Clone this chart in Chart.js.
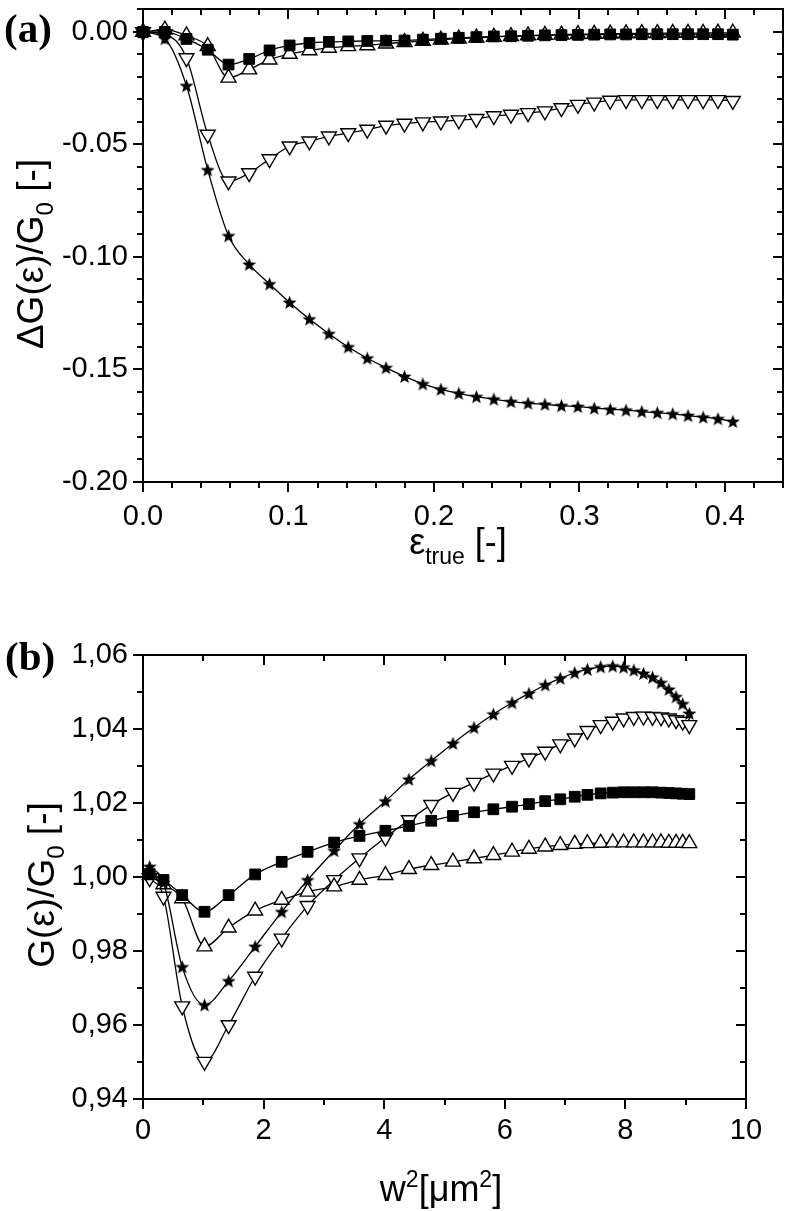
<!DOCTYPE html>
<html>
<head>
<meta charset="utf-8">
<script src="https://cdn.jsdelivr.net/npm/chart.js@4"></script>
<style>
  html, body { margin: 0; padding: 0; background: #fff; }
  #wrap { position: relative; width: 786px; height: 1211px; }
  canvas { position: absolute; left: 0; }
</style>
</head>
<body>
<div id="wrap">
  <canvas id="chart-a" width="786" height="580" style="top:0px"></canvas>
  <canvas id="chart-b" width="786" height="631" style="top:580px"></canvas>
</div>
<script>
// --- Panel (a): relative change of G against true strain ---
const strainA = [0, 0.0150, 0.0299, 0.0445, 0.0588, 0.0730, 0.0870, 0.1008, 0.1144, 0.1278,
    0.1411, 0.1542, 0.1671, 0.1798, 0.1924, 0.2048, 0.2171, 0.2292, 0.2412, 0.2530,
    0.2647, 0.2763, 0.2877, 0.2990, 0.3102, 0.3212, 0.3321, 0.3429, 0.3536, 0.3642,
    0.3747, 0.3851, 0.3953, 0.4055];
const starA = [0, -0.0030, -0.0239, -0.0613, -0.0906, -0.1033, -0.1120, -0.1202, -0.1276, -0.1341,
    -0.1400, -0.1450, -0.1492, -0.1531, -0.1564, -0.1588, -0.1606, -0.1621, -0.1632, -0.1643,
    -0.1650, -0.1655, -0.1661, -0.1665, -0.1672, -0.1677, -0.1681, -0.1687, -0.1692, -0.1697,
    -0.1705, -0.1712, -0.1719, -0.1731];
const squareA = [0, 0, -0.0031, -0.0079, -0.0145, -0.0120, -0.0082, -0.0060, -0.0049, -0.0044,
    -0.0042, -0.0040, -0.0039, -0.0038, -0.0034, -0.0030, -0.0026, -0.0023, -0.0020, -0.0019,
    -0.0017, -0.0015, -0.0014, -0.0013, -0.0012, -0.0011, -0.0011, -0.0010, -0.0010, -0.0010,
    -0.0010, -0.0010, -0.0010, -0.0012];
const upA = [0, 0.0010, -0.0016, -0.0064, -0.0204, -0.0167, -0.0123, -0.0098, -0.0082, -0.0071,
    -0.0064, -0.0060, -0.0052, -0.0046, -0.0040, -0.0035, -0.0030, -0.0026, -0.0022, -0.0019,
    -0.0016, -0.0014, -0.0012, -0.0010, -0.0009, -0.0008, -0.0007, -0.0006, -0.0006, -0.0005,
    -0.0005, -0.0005, -0.0004, -0.0004];
const downA = [0, -0.0010, -0.0116, -0.0456, -0.0664, -0.0627, -0.0565, -0.0508, -0.0486, -0.0464,
    -0.0449, -0.0434, -0.0416, -0.0407, -0.0401, -0.0397, -0.0392, -0.0386, -0.0374, -0.0367,
    -0.0360, -0.0352, -0.0338, -0.0323, -0.0313, -0.0305, -0.0302, -0.0302, -0.0302, -0.0302,
    -0.0302, -0.0302, -0.0302, -0.0306];
const xTicksA = [0, 0.1, 0.2, 0.3, 0.4];
const yTicksA = [0, -0.05, -0.10, -0.15, -0.20];

// --- Panel (b): G/G0 against w^2 ---
const w2B = [0.11, 0.34, 0.65, 1.02, 1.42, 1.86, 2.30, 2.73, 3.17, 3.59,
    4.02, 4.41, 4.78, 5.14, 5.49, 5.81, 6.12, 6.40, 6.67, 6.92,
    7.16, 7.37, 7.59, 7.79, 7.97, 8.14, 8.30, 8.45, 8.59, 8.72,
    8.84, 8.95, 9.06];
const starB = [1.0028, 0.9985, 0.9757, 0.9654, 0.9719, 0.9812, 0.9906, 0.9992, 1.0071, 1.0143,
    1.0205, 1.0264, 1.0314, 1.0361, 1.0404, 1.0440, 1.0471, 1.0496, 1.0519, 1.0537,
    1.0552, 1.0561, 1.0568, 1.0570, 1.0567, 1.0559, 1.0550, 1.0540, 1.0525, 1.0507,
    1.0487, 1.0468, 1.0442];
const squareB = [1.0008, 0.9992, 0.9951, 0.9906, 0.9951, 1.0007, 1.0041, 1.0068, 1.0093, 1.0111,
    1.0125, 1.0138, 1.0152, 1.0165, 1.0175, 1.0183, 1.0190, 1.0197, 1.0205, 1.0210,
    1.0217, 1.0222, 1.0226, 1.0228, 1.0229, 1.0229, 1.0229, 1.0229, 1.0228, 1.0227,
    1.0226, 1.0225, 1.0224];
const upB = [1.0005, 0.9980, 0.9942, 0.9812, 0.9863, 0.9909, 0.9938, 0.9960, 0.9974, 0.9992,
    1.0005, 1.0021, 1.0032, 1.0041, 1.0050, 1.0059, 1.0068, 1.0076, 1.0082, 1.0086,
    1.0089, 1.0091, 1.0092, 1.0093, 1.0093, 1.0093, 1.0093, 1.0093, 1.0093, 1.0092,
    1.0092, 1.0092, 1.0091];
const downB = [0.9997, 0.9947, 0.9651, 0.9501, 0.9600, 0.9731, 0.9834, 0.9922, 0.9992, 1.0051,
    1.0107, 1.0154, 1.0195, 1.0228, 1.0255, 1.0280, 1.0301, 1.0321, 1.0339, 1.0359,
    1.0375, 1.0395, 1.0411, 1.0420, 1.0429, 1.0433, 1.0434, 1.0433, 1.0432, 1.0429,
    1.0424, 1.0420, 1.0411];
const xTicksB = [0, 2, 4, 6, 8, 10];
const yTicksB = [0.94, 0.96, 0.98, 1.00, 1.02, 1.04, 1.06];

const SANS = '"Liberation Sans", Arial, sans-serif';

// --- filled five point star used as marker ---
function makeStar(r) {
    const c = document.createElement("canvas");
    const s = Math.ceil(r * 2 + 2);
    c.width = s; c.height = s;
    const g = c.getContext("2d");
    g.translate(s / 2, s / 2 + r * 0.08);
    g.beginPath();
    for (let i = 0; i < 10; i++) {
        const rr = i % 2 ? r * 0.42 : r;
        const a = -Math.PI / 2 + i * Math.PI / 5;
        g.lineTo(Math.cos(a) * rr, Math.sin(a) * rr);
    }
    g.closePath();
    g.fillStyle = "#000";
    g.fill();
    return c;
}
const starImg = makeStar(7.4);

// text with sub (1) / superscript (2) parts, centred on (cx, cy) baseline
function richText(ctx, parts, size, cx, cy, angle) {
    ctx.save();
    ctx.translate(cx, cy);
    ctx.rotate(angle || 0);
    ctx.textBaseline = "alphabetic";
    ctx.textAlign = "left";
    ctx.fillStyle = "#000";
    const fontFor = p => (p[1] ? Math.round(size * 0.65) : size) + "px " + SANS;
    let total = 0;
    const widths = parts.map(p => {
        ctx.font = fontFor(p);
        const w = ctx.measureText(p[0]).width;
        total += w;
        return w;
    });
    let x = -total / 2;
    parts.forEach((p, i) => {
        ctx.font = fontFor(p);
        const dy = p[1] === 1 ? size * 0.28 : p[1] === 2 ? -size * 0.4 : 0;
        ctx.fillText(p[0], x, dy);
        x += widths[i];
    });
    ctx.restore();
}

// --- frame, tick marks, titles ---
const framePlugin = {
    id: "frame",
    afterDraw(chart, args, o) {
        const ctx = chart.ctx, a = chart.chartArea;
        const xs = chart.scales.x, ys = chart.scales.y;
        ctx.save();
        ctx.strokeStyle = "#000";
        ctx.lineWidth = 2;
        ctx.strokeRect(a.left, a.top, a.right - a.left, a.bottom - a.top);
        ctx.beginPath();
        o.xMinor.forEach(v => {
            const p = Math.round(xs.getPixelForValue(v));
            const major = o.xMajor.some(m => Math.abs(m - v) < 1e-9);
            const L = major ? o.majorLen : o.minorLen;
            ctx.moveTo(p, a.bottom); ctx.lineTo(p, a.bottom + L);
            ctx.moveTo(p, a.top); ctx.lineTo(p, a.top + L);
        });
        o.yMinor.forEach(v => {
            const p = Math.round(ys.getPixelForValue(v));
            const major = o.yMajor.some(m => Math.abs(m - v) < 1e-9);
            const L = major ? o.majorLen : o.minorLen;
            ctx.moveTo(a.left, p); ctx.lineTo(a.left - L, p);
            ctx.moveTo(a.right, p); ctx.lineTo(a.right - L, p);
        });
        ctx.stroke();

        ctx.fillStyle = "#000";
        ctx.font = 'bold 41px "Liberation Serif", "Times New Roman", serif';
        ctx.textBaseline = "middle";
        ctx.textAlign = "left";
        ctx.fillText(o.letter.text, o.letter.x, o.letter.y);

        richText(ctx, o.xTitle.parts, 36, o.xTitle.x, o.xTitle.y, 0);
        richText(ctx, o.yTitle.parts, 37, o.yTitle.x, o.yTitle.y, -Math.PI / 2);
        ctx.restore();
    }
};

function series(xs, ys, style) {
    return Object.assign({
        data: xs.map((x, i) => ({ x: x, y: ys[i] })),
        showLine: true,
        borderColor: "#000",
        borderWidth: 1.3,
        cubicInterpolationMode: "monotone",
        clip: false,
        pointBorderColor: "#000",
        pointBorderWidth: 1.4
    }, style);
}

function buildDatasets(xs, star, square, up, down) {
    // first dataset is drawn on top
    return [
        series(xs, star, { pointStyle: starImg, pointRadius: 7 }),
        series(xs, square, { pointStyle: "rect", pointRadius: 7.6, pointBackgroundColor: "#000", pointBorderWidth: 1 }),
        series(xs, up, { pointStyle: "triangle", pointRadius: 8.6, pointBackgroundColor: "#fff" }),
        series(xs, down, { pointStyle: "triangle", pointRotation: 180, pointRadius: 8.6, pointBackgroundColor: "#fff" })
    ];
}

function steps(from, to, step) {
    const out = [];
    const n = Math.round((to - from) / step);
    for (let i = 0; i <= n; i++) out.push(+(from + i * step).toFixed(6));
    return out;
}

function makeChart(id, c) {
    return new Chart(document.getElementById(id), {
        type: "scatter",
        data: { datasets: c.datasets },
        plugins: [framePlugin],
        options: {
            responsive: false,
            animation: false,
            events: [],
            layout: { autoPadding: false, padding: c.padding },
            plugins: { legend: { display: false }, tooltip: { enabled: false }, frame: c.frame },
            scales: {
                x: {
                    type: "linear", min: c.xMin, max: c.xMax,
                    grid: { display: false, drawTicks: false },
                    border: { display: false },
                    afterBuildTicks: s => { s.ticks = c.xTicks.map(v => ({ value: v })); },
                    afterFit: s => { s.height = c.xHeight; s.paddingLeft = 0; s.paddingRight = 0; },
                    ticks: {
                        padding: c.xPad, color: "#000", maxRotation: 0, autoSkip: false,
                        font: { family: SANS, size: 29 },
                        callback: c.xFormat
                    }
                },
                y: {
                    type: "linear", min: c.yMin, max: c.yMax,
                    grid: { display: false, drawTicks: false },
                    border: { display: false },
                    afterBuildTicks: s => { s.ticks = c.yTicks.map(v => ({ value: v })); },
                    afterFit: s => { s.width = c.yWidth; s.paddingTop = 0; s.paddingBottom = 0; },
                    ticks: {
                        padding: 15, color: "#000", autoSkip: false,
                        font: { family: SANS, size: 29 },
                        callback: c.yFormat
                    }
                }
            }
        }
    });
}

// --- Panel (a) ---
makeChart("chart-a", {
    datasets: buildDatasets(strainA, starA, squareA, upA, downA),
    padding: { left: 0, right: 3, top: 9, bottom: 0 },
    xMin: 0, xMax: 0.44, yMin: -0.2, yMax: 0.0102,
    xTicks: xTicksA, yTicks: yTicksA,
    xHeight: 580 - 482, yWidth: 143, xPad: 18,
    xFormat: v => v.toFixed(1),
    yFormat: v => v.toFixed(2),
    frame: {
        xMajor: xTicksA, xMinor: steps(0, 0.44, 0.02),
        yMajor: yTicksA, yMinor: steps(-0.2, 0.01, 0.01),
        majorLen: 10, minorLen: 6,
        letter: { text: "(a)", x: 4, y: 31 },
        xTitle: { parts: [["ε", 0], ["true", 1], [" [-]", 0]], x: 458, y: 554 },
        yTitle: { parts: [["ΔG(ε)/G", 0], ["0", 1], [" [-]", 0]], x: 43, y: 254 }
    }
});

// --- Panel (b) ---
makeChart("chart-b", {
    datasets: buildDatasets(w2B, starB, squareB, upB, downB),
    padding: { left: 0, right: 40, top: 75, bottom: 0 },
    xMin: 0, xMax: 10, yMin: 0.94, yMax: 1.06,
    xTicks: xTicksB, yTicks: yTicksB,
    xHeight: 631 - 519, yWidth: 143, xPad: 15,
    xFormat: v => String(v),
    yFormat: v => v.toFixed(2).replace(".", ","),
    frame: {
        xMajor: xTicksB, xMinor: steps(0, 10, 1),
        yMajor: yTicksB, yMinor: steps(0.94, 1.06, 0.01),
        majorLen: 10, minorLen: 6,
        letter: { text: "(b)", x: 5, y: 79 },
        xTitle: { parts: [["w", 0], ["2", 2], ["[μm", 0], ["2", 2], ["]", 0]], x: 441, y: 621 },
        yTitle: { parts: [["G(ε)/G", 0], ["0", 1], [" [-]", 0]], x: 54, y: 305 }
    }
});
</script>
</body>
</html>
